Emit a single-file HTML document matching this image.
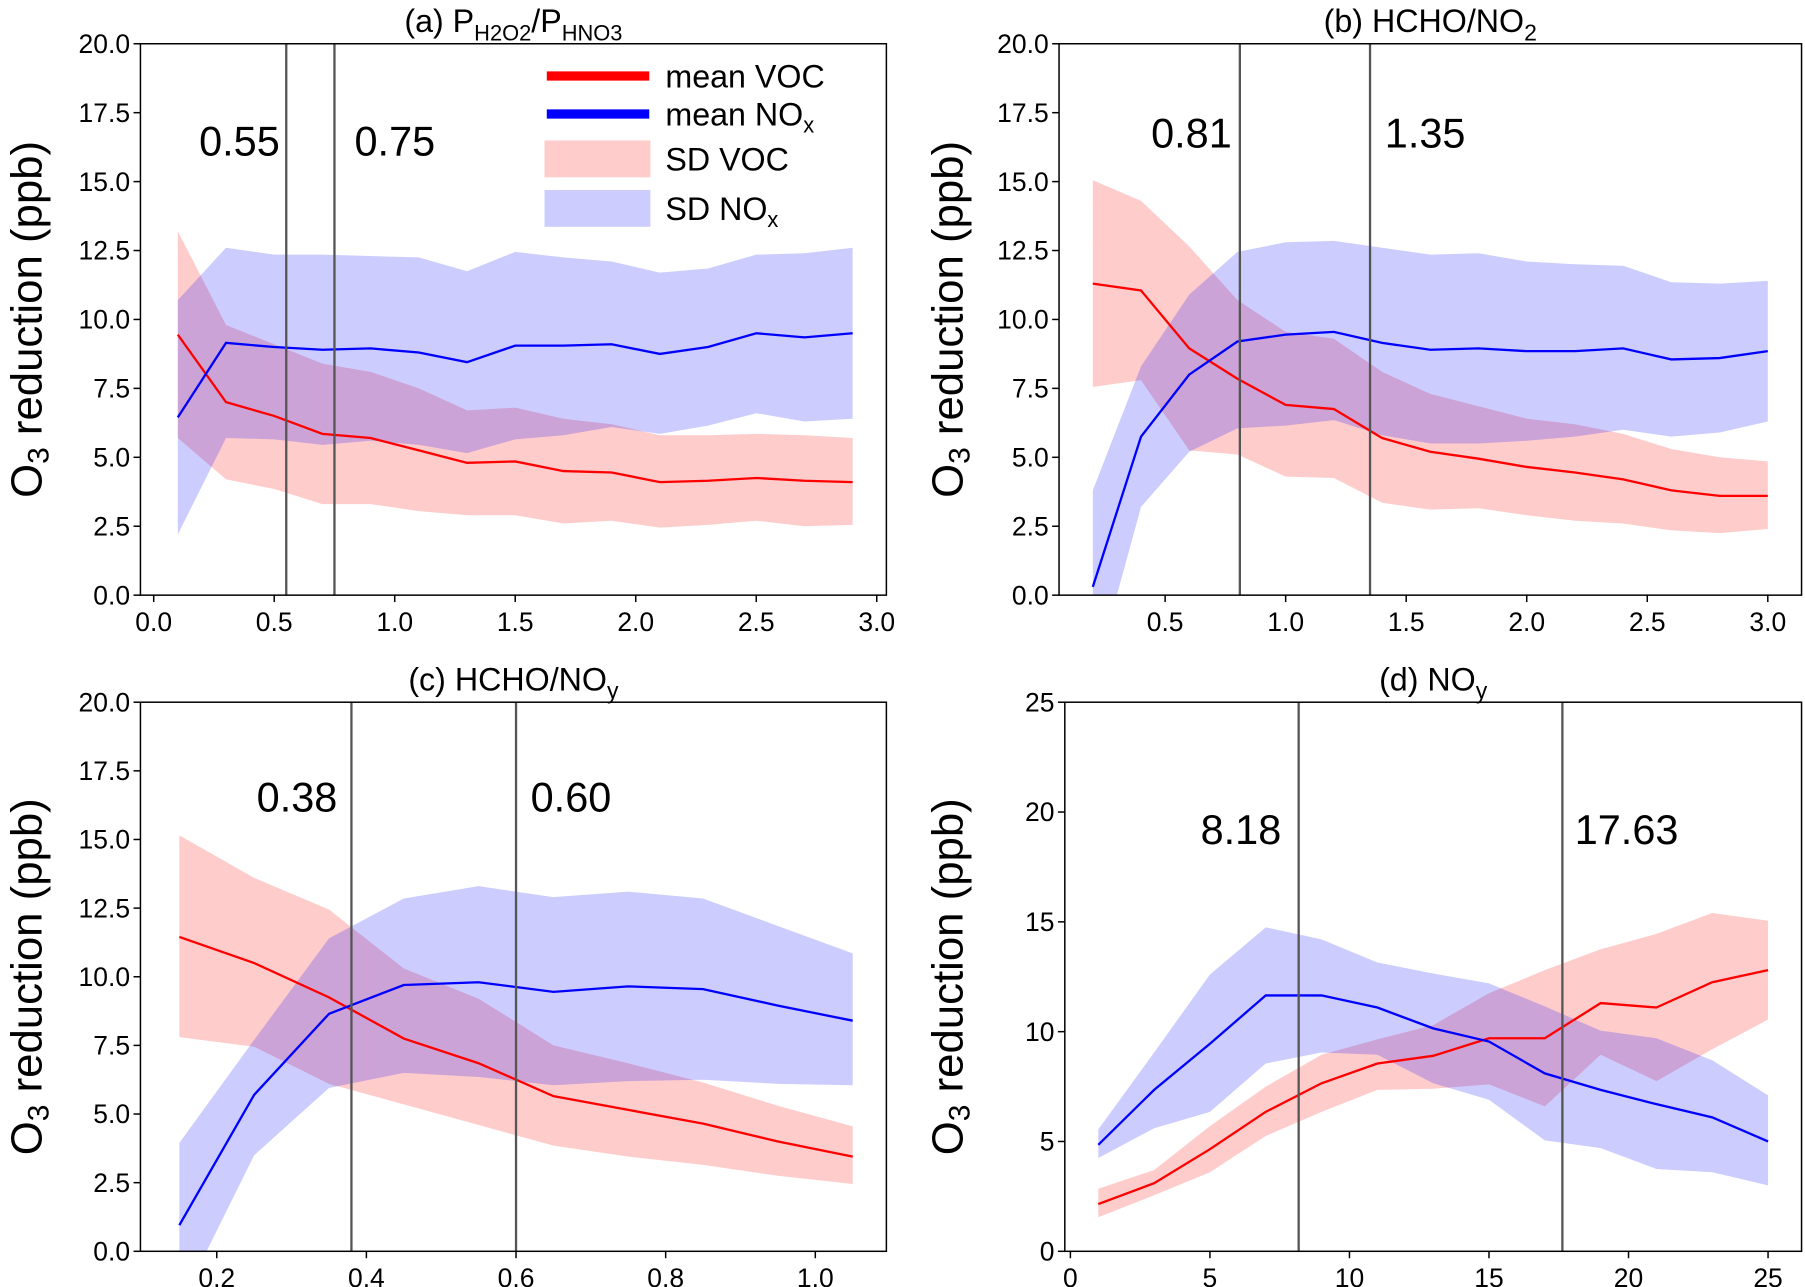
<!DOCTYPE html>
<html><head><meta charset="utf-8"><style>
html,body{margin:0;padding:0;background:#fff;}
svg{display:block;font-family:"Liberation Sans",sans-serif;}
</style></head><body>
<svg id="chart" width="1805" height="1287" viewBox="0 0 1568 1118" xmlns="http://www.w3.org/2000/svg"></svg>
<script>
// ---- Panel (a) data ----
const aX = [0.1,0.3,0.5,0.7,0.9,1.1,1.3,1.5,1.7,1.9,2.1,2.3,2.5,2.7,2.9];
const aVoc = [9.45,7.0,6.5,5.85,5.7,5.25,4.8,4.85,4.5,4.45,4.1,4.15,4.25,4.15,4.1];
const aVocHi = [13.2,9.8,9.1,8.4,8.1,7.5,6.7,6.8,6.4,6.2,5.8,5.8,5.85,5.8,5.7];
const aVocLo = [5.7,4.2,3.85,3.3,3.3,3.05,2.9,2.9,2.6,2.7,2.45,2.55,2.7,2.5,2.55];
const aNox = [6.45,9.15,9.0,8.9,8.95,8.8,8.45,9.05,9.05,9.1,8.75,9.0,9.5,9.35,9.5];
const aNoxHi = [10.7,12.6,12.35,12.35,12.3,12.25,11.75,12.45,12.25,12.1,11.7,11.85,12.35,12.4,12.6];
const aNoxLo = [2.2,5.7,5.65,5.45,5.6,5.45,5.15,5.65,5.8,6.1,5.85,6.15,6.6,6.3,6.4];
const aVlines = [0.55,0.75];
const aXTicks = ["0.0","0.5","1.0","1.5","2.0","2.5","3.0"];
// ---- Panel (b) data ----
const bX = [0.2,0.4,0.6,0.8,1.0,1.2,1.4,1.6,1.8,2.0,2.2,2.4,2.6,2.8,3.0];
const bVoc = [11.3,11.05,8.95,7.85,6.9,6.75,5.7,5.2,4.95,4.65,4.45,4.2,3.8,3.6,3.6];
const bVocHi = [15.05,14.3,12.65,10.7,9.55,9.3,8.1,7.3,6.85,6.4,6.2,5.85,5.3,5.0,4.85];
const bVocLo = [7.55,7.8,5.25,5.1,4.3,4.25,3.35,3.1,3.15,2.9,2.7,2.6,2.35,2.25,2.4];
const bNox = [0.3,5.75,8.0,9.2,9.45,9.55,9.15,8.9,8.95,8.85,8.85,8.95,8.55,8.6,8.85];
const bNoxHi = [3.8,8.3,10.9,12.45,12.8,12.85,12.6,12.35,12.4,12.1,12.0,11.95,11.35,11.3,11.4];
const bNoxLo = [-3.2,3.2,5.2,6.05,6.15,6.35,5.8,5.5,5.5,5.6,5.75,6.0,5.75,5.9,6.3];
const bVlines = [0.81,1.35];
const bXTicks = ["0.5","1.0","1.5","2.0","2.5","3.0"];
// ---- Panel (c) data ----
const cX = [0.15,0.25,0.35,0.45,0.55,0.65,0.75,0.85,0.95,1.05];
const cVoc = [11.45,10.5,9.25,7.75,6.85,5.65,5.15,4.65,4.0,3.45];
const cVocHi = [15.15,13.6,12.45,10.3,9.2,7.5,6.85,6.15,5.3,4.55];
const cVocLo = [7.8,7.45,6.1,5.35,4.6,3.85,3.45,3.15,2.75,2.45];
const cNox = [0.95,5.7,8.65,9.7,9.8,9.45,9.65,9.55,8.95,8.4];
const cNoxHi = [3.95,7.7,11.4,12.85,13.3,12.9,13.1,12.85,11.85,10.85];
const cNoxLo = [-2.0,3.5,5.95,6.5,6.35,6.05,6.2,6.25,6.1,6.05];
const cVlines = [0.38,0.60];
const cXTicks = ["0.2","0.4","0.6","0.8","1.0"];
// ---- Panel (d) data ----
const dX = [1,3,5,7,9,11,13,15,17,19,21,23,25];
const dVoc = [2.15,3.1,4.65,6.35,7.65,8.55,8.9,9.7,9.7,11.3,11.1,12.25,12.8];
const dVocHi = [2.85,3.7,5.7,7.5,8.95,9.65,10.3,11.75,12.8,13.75,14.45,15.4,15.05];
const dVocLo = [1.55,2.55,3.6,5.25,6.35,7.35,7.4,7.6,6.6,8.95,7.75,9.2,10.55];
const dNox = [4.85,7.35,9.45,11.65,11.65,11.1,10.15,9.55,8.1,7.35,6.7,6.1,5.0];
const dNoxHi = [5.55,9.05,12.6,14.75,14.2,13.15,12.65,12.2,11.15,10.05,9.7,8.7,7.1];
const dNoxLo = [4.25,5.6,6.35,8.55,9.05,8.95,7.65,6.9,5.05,4.7,3.75,3.6,3.0];
const dVlines = [8.18,17.63];
const dXTicks = ["0","5","10","15","20","25"];
const abcYTicks = ["0.0","2.5","5.0","7.5","10.0","12.5","15.0","17.5","20.0"];
const dYTicks = ["0","5","10","15","20","25"];

const NS = "http://www.w3.org/2000/svg";
const svg = document.getElementById("chart");
function mk(tag, attrs, parent){const e=document.createElementNS(NS,tag);for(const k in attrs)e.setAttribute(k,attrs[k]);(parent||svg).appendChild(e);return e;}

const panels = [
 {id:"a", L:122,R:770,T:38,B:517, xmin:-0.055,xmax:3.04, ymax:20, X:aX, voc:aVoc,vh:aVocHi,vl:aVocLo, nox:aNox,nh:aNoxHi,nl:aNoxLo, vl2:aVlines, xt:aXTicks, yt:abcYTicks, ylx:22, vy:135, lp:[208,343], title:'(a) P<tspan dy="7" font-size="19">H2O2</tspan><tspan dy="-7">/P</tspan><tspan dy="7" font-size="19">HNO3</tspan>'},
 {id:"b", L:920,R:1565,T:38,B:517, xmin:0.06,xmax:3.14, ymax:20, X:bX, voc:bVoc,vh:bVocHi,vl:bVocLo, nox:bNox,nh:bNoxHi,nl:bNoxLo, vl2:bVlines, xt:bXTicks, yt:abcYTicks, ylx:822, vy:128, lp:[1035,1238], title:'(b) HCHO/NO<tspan dy="7" font-size="20">2</tspan>'},
 {id:"c", L:122,R:770,T:610,B:1087, xmin:0.098,xmax:1.095, ymax:20, X:cX, voc:cVoc,vh:cVocHi,vl:cVocLo, nox:cNox,nh:cNoxHi,nl:cNoxLo, vl2:cVlines, xt:cXTicks, yt:abcYTicks, ylx:22, vy:705, lp:[258,496], title:'(c) HCHO/NO<tspan dy="7" font-size="20">y</tspan>'},
 {id:"d", L:925,R:1565,T:610,B:1087, xmin:-0.2,xmax:26.2, ymax:25, X:dX, voc:dVoc,vh:dVocHi,vl:dVocLo, nox:dNox,nh:dNoxHi,nl:dNoxLo, vl2:dVlines, xt:dXTicks, yt:dYTicks, ylx:822, vy:733, lp:[1078,1413], title:'(d) NO<tspan dy="7" font-size="20">y</tspan>'}
];

panels.forEach(p=>{
  const g = mk("g",{});
  
  
  const sx = v => p.L + (v-p.xmin)/(p.xmax-p.xmin)*(p.R-p.L);
  const sy = v => p.B - v/p.ymax*(p.B-p.T);
  const cp = mk("clipPath",{id:"clip"+p.id},g);
  mk("rect",{x:p.L,y:p.T,width:p.R-p.L,height:p.B-p.T},cp);
  const plot = mk("g",{"clip-path":"url(#clip"+p.id+")"},g);
  function band(hi,lo,color,name){
    let d="M"+p.X.map((x,i)=>sx(x)+","+sy(hi[i])).join("L");
    d+="L"+p.X.slice().reverse().map((x,j)=>{const i=p.X.length-1-j;return sx(x)+","+sy(lo[i]);}).join("L")+"Z";
    const e=mk("path",{d:d,fill:color,"fill-opacity":0.2,stroke:"none"},plot);
    
    
  }
  function line(vals,color,name){
    const e=mk("polyline",{points:p.X.map((x,i)=>sx(x)+","+sy(vals[i])).join(" "),fill:"none",stroke:color,"stroke-width":2},plot);
    
    
  }
  band(p.vh,p.vl,"#ff0000","sd-voc-band");
  band(p.nh,p.nl,"#0000ff","sd-nox-band");
  line(p.voc,"#ff0000","mean-voc-line");
  line(p.nox,"#0000ff","mean-nox-line");
  p.vl2.forEach((v,i)=>{
    const l=mk("line",{x1:sx(v),x2:sx(v),y1:p.T,y2:p.B,stroke:"#555",'stroke-width':2},g);
    
    
    const t=mk("text",{x:p.lp[i],y:p.vy,"font-size":36,"text-anchor":"middle"},g);
    t.textContent = v.toFixed(2);
    
    
  });
  mk("rect",{x:p.L,y:p.T,width:p.R-p.L,height:p.B-p.T,fill:"none",stroke:"#000","stroke-width":1.3},g);
  p.xt.forEach(s=>{
    const v=parseFloat(s), x=sx(v);
    mk("line",{x1:x,x2:x,y1:p.B,y2:p.B+6,stroke:"#000","stroke-width":1.3},g);
    const t=mk("text",{x:x,y:p.B+31,"font-size":23,"text-anchor":"middle"},g);
    t.textContent=s;
    
    
  });
  p.yt.forEach(s=>{
    const v=parseFloat(s), y=sy(v);
    mk("line",{x1:p.L-6,x2:p.L,y1:y,y2:y,stroke:"#000","stroke-width":1.3},g);
    const t=mk("text",{x:p.L-9,y:y+8,"font-size":23,"text-anchor":"end"},g);
    t.textContent=s;
    
    
  });
  const yl=mk("text",{x:0,y:0,"font-size":38,"text-anchor":"middle",transform:"translate("+(p.ylx+14)+","+((p.T+p.B)/2)+") rotate(-90)"},g);
  yl.innerHTML='O<tspan font-size="26" dy="6">3</tspan><tspan dy="-6"> reduction (ppb)</tspan>';
  
  
  const ti=mk("text",{x:(p.L+p.R)/2,y:p.T-10,"font-size":28,"text-anchor":"middle"},g);
  ti.innerHTML=p.title;
  
  
});

// legend
const lg = mk("g",{});


const legItems = [["line","#ff0000","mean VOC",66],["line","#0000ff","mean NO",99],["patch","#ff0000","SD VOC",138],["patch","#0000ff","SD NO",181]];
legItems.forEach(it=>{
  if(it[0]==="line"){mk("line",{x1:475,x2:564,y1:it[3],y2:it[3],stroke:it[1],"stroke-width":8},lg);}
  else{mk("rect",{x:473,y:it[3]-16,width:92,height:32,fill:it[1],"fill-opacity":0.2},lg);}
  const t=mk("text",{x:578,y:it[3]+10,"font-size":28},lg);
  t.innerHTML = it[2] + (it[2].endsWith("NO")?'<tspan font-size="19" dy="6">x</tspan>':'');
  
  
});
</script>
</body></html>
